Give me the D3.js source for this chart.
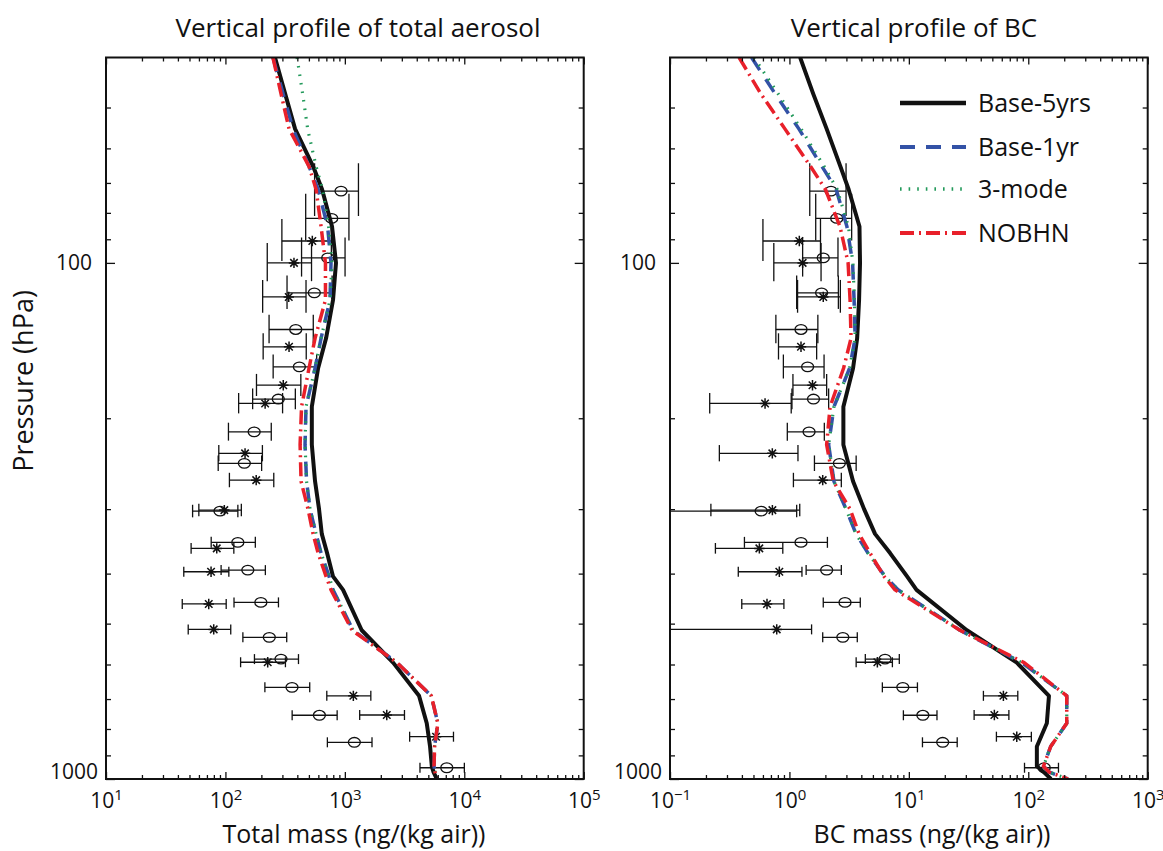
<!DOCTYPE html>
<html>
<head>
<meta charset="utf-8">
<script src="https://cdn.jsdelivr.net/npm/d3@7"></script>
<style>
body{margin:0;background:#fff;}
text{font-family:"Open Sans",sans-serif;fill:#111;}
</style>
</head>
<body>
<svg id="chartSVG" width="1163" height="851"></svg>
<script>
// model pressure levels (hPa)
const modelP = [40, 47, 55, 65, 72, 85, 100, 118, 140, 160, 190, 225, 265, 300, 335, 365, 405, 430, 515, 595, 690, 780, 865, 945, 970, 1000];

// total aerosol mass, ng/(kg air)
const totBase5 = [260, 316, 383, 542, 644, 781, 843, 796, 696, 597, 529, 529, 563, 608, 641, 710, 796, 966, 1384, 2536, 4180, 4850, 5170, 5350, 5530, 5890];
const totBase1 = [250, 304, 368, 501, 597, 717, 766, 751, 632, 563, 473, 464, 478, 511, 574, 632, 738, 796, 1172, 2729, 5297, 6010, 5640, 5580, 5690, 5900];
const tot3mode = [398, 443, 488, 574, 650, 731, 781, 751, 632, 563, 473, 464, 478, 511, 574, 632, 738, 796, 1172, 2729, 5297, 6010, 5640, 5580, 5690, 5900];
const totNOBHN = [250, 292, 341, 501, 574, 632, 688, 688, 563, 501, 434, 422, 430, 492, 542, 597, 696, 766, 1148, 2729, 5297, 6010, 5640, 5580, 5690, 5900];

// BC mass, ng/(kg air)
const bcBase5 = [1.23, 1.58, 2.05, 2.67, 3.13, 3.86, 3.90, 3.83, 3.69, 3.41, 2.83, 2.83, 3.41, 4.22, 5.21, 6.96, 9.66, 11.6, 30.6, 80.2, 149, 143, 118, 118, 135, 155];
const bcBase1 = [0.482, 0.758, 1.20, 1.87, 2.46, 3.03, 3.38, 3.48, 3.55, 3.19, 2.36, 2.13, 2.36, 2.98, 3.61, 4.55, 6.32, 8.12, 26.8, 88.3, 210, 210, 154, 134, 150, 215];
const bc3mode = [0.505, 0.803, 1.25, 1.95, 2.51, 3.12, 3.40, 3.50, 3.55, 3.19, 2.36, 2.13, 2.36, 2.98, 3.61, 4.55, 6.32, 8.12, 26.8, 88.3, 210, 210, 154, 134, 150, 215];
const bcNOBHN = [0.379, 0.576, 0.917, 1.50, 2.0, 2.65, 3.10, 3.22, 3.28, 2.84, 2.19, 2.05, 2.33, 3.22, 3.83, 4.73, 6.20, 7.66, 26.8, 92.3, 210, 210, 154, 134, 150, 215];

// observations: circles and asterisks (pressure, mean, std)
const circP = [72.6, 82, 97.8, 114.3, 134.6, 159, 183.6, 212.5, 244.6, 302.7, 348, 393.8, 454.8, 531.6, 585.7, 664.4, 752.5, 849, 951];
const starP = [90.7, 100, 116.4, 145.4, 172.6, 187.2, 233.9, 263.6, 301.3, 357.4, 396.7, 458, 513, 594, 690, 751.6, 828];

const totCircMean = [929, 776, 719, 555, 388, 416, 277, 174, 144, 90.1, 127, 154, 198, 233, 292, 361, 612, 1201, 7136];
const totCircSd   = [371, 306, 285, 227, 156, 165, 108, 68, 57, 37, 51, 62, 80, 93, 117, 147, 250, 487, 2880];
const totStarMean = [534, 375, 339, 341, 305, 215, 146, 181, 97.9, 84.6, 75.8, 72.5, 79.8, 226, 1178, 2244, 5804];
const totStarSd   = [237, 151, 134, 134, 123, 86, 58, 73, 38, 33, 31, 29, 31, 92, 472, 913, 2317];

const bcCircMean = [2.23, 2.49, 1.92, 1.86, 1.25, 1.42, 1.59, 1.46, 2.62, 0.58, 1.25, 2.05, 2.92, 2.80, 6.32, 8.9, 13.1, 19.2, 136];
const bcCircSd   = [0.75, 0.83, 0.63, 0.71, 0.48, 0.53, 0.54, 0.50, 1.0, 0.57, 0.83, 0.67, 1.0, 0.9, 2.0, 2.9, 4.1, 6.2, 43];
const bcStarMean = [1.21, 1.29, 1.92, 1.25, 1.56, 0.625, 0.719, 1.90, 0.72, 0.56, 0.823, 0.649, 0.783, 5.45, 61.9, 52, 80.1];
const bcStarSd   = [0.61, 0.55, 0.75, 0.44, 0.49, 0.41, 0.46, 0.82, 0.50, 0.32, 0.45, 0.25, 0.75, 1.83, 19.8, 16.8, 26];

const seriesNames = ["Base-5yrs", "Base-1yr", "3-mode", "NOBHN"];
const xTicksTot = [10, 100, 1000, 10000, 100000];
const xTicksBC = [0.1, 1, 10, 100, 1000];
const yTicks = [100, 1000];
const yMinor = [50, 60, 70, 80, 90, 200, 300, 400, 500, 600, 700, 800, 900];

// line styles, same order as seriesNames
const styles = [
  {color: "#111111", width: 4, dash: null},
  {color: "#3352a6", width: 3.5, dash: "15,11"},
  {color: "#22995a", width: 3.2, dash: "1.6,7"},
  {color: "#e8202a", width: 3.5, dash: "14,5,2,5"}
];

let svg = d3.select("#chartSVG");

const yTop = 57.5, yBot = 779;
let yScale = d3.scaleLog().domain([40, 1000]).range([yTop, yBot]);

const panels = [
  {x0: 106, x1: 583.7, xTicks: xTicksTot, lines: [totBase5, totBase1, tot3mode, totNOBHN],
   circ: [totCircMean, totCircSd], star: [totStarMean, totStarSd],
   title: "Vertical profile of total aerosol", titleX: 358, xlabel: "Total mass (ng/(kg air))", xlabelX: 354},
  {x0: 670, x1: 1147.7, xTicks: xTicksBC, lines: [bcBase5, bcBase1, bc3mode, bcNOBHN],
   circ: [bcCircMean, bcCircSd], star: [bcStarMean, bcStarSd],
   title: "Vertical profile of BC", titleX: 914, xlabel: "BC mass (ng/(kg air))", xlabelX: 932, legend: true}
];

function minorOf(major) {
  let out = [];
  for (let i = 0; i < major.length - 1; i++)
    for (let k = 2; k <= 9; k++) out.push(major[i] * k);
  return out;
}

function supLabel(sel) {
  sel.selectAll(".tick text").each(function(d) {
    let e = Math.round(Math.log10(d));
    let t = d3.select(this);
    t.text(null);
    t.append("tspan").text("10");
    t.append("tspan").attr("dy", "-0.55em").attr("font-size", "15px")
      .text(e < 0 ? "\u2212" + (-e) : e);
  });
}

panels.forEach((cfg, pi) => {
  let xScale = d3.scaleLog().domain([cfg.xTicks[0], cfg.xTicks[cfg.xTicks.length - 1]]).range([cfg.x0, cfg.x1]);
  let xMinor = minorOf(cfg.xTicks);

  // clip for the plot area
  let clipId = "clip" + pi;
  svg.append("clipPath").attr("id", clipId).append("rect")
    .attr("x", cfg.x0).attr("y", yTop).attr("width", cfg.x1 - cfg.x0).attr("height", yBot - yTop);
  let plot = svg.append("g").attr("clip-path", "url(#" + clipId + ")");

  // 1. observation error bars
  function drawObs(pArr, mean, sd, kind) {
    let g = plot.append("g").attr("stroke", "#111").attr("stroke-width", 1.3).attr("fill", "none");
    pArr.forEach((p, i) => {
      let lo = mean[i] - sd[i], hi = mean[i] + sd[i];
      let xl = lo > 0 ? xScale(lo) : cfg.x0 - 20;
      let xh = xScale(hi);
      let yc = yScale(p);
      let ya = Math.min(yScale(p - 8.5), yc - 5), yb = Math.max(yScale(p + 8.5), yc + 5);
      g.append("line").attr("x1", xl).attr("x2", xh).attr("y1", yc).attr("y2", yc);
      if (lo > 0) g.append("line").attr("x1", xl).attr("x2", xl).attr("y1", ya).attr("y2", yb);
      g.append("line").attr("x1", xh).attr("x2", xh).attr("y1", ya).attr("y2", yb);
      let xc = xScale(mean[i]);
      if (kind === "o") {
        g.append("ellipse").attr("cx", xc).attr("cy", yc).attr("rx", 6).attr("ry", 4.8);
      } else {
        let r = 5.2, q = r * 0.72;
        g.append("path").attr("stroke-width", 1.5)
          .attr("d", `M${xc - r},${yc}H${xc + r}M${xc},${yc - r}V${yc + r}M${xc - q},${yc - q}L${xc + q},${yc + q}M${xc - q},${yc + q}L${xc + q},${yc - q}`);
      }
    });
  }
  drawObs(circP, cfg.circ[0], cfg.circ[1], "o");
  drawObs(starP, cfg.star[0], cfg.star[1], "*");

  // 2. model lines
  let line = d3.line().x(d => xScale(d[0])).y(d => yScale(d[1]));
  cfg.lines.forEach((vals, si) => {
    let st = styles[si];
    plot.append("path")
      .datum(vals.map((v, i) => [v, modelP[i]]))
      .attr("d", line)
      .attr("fill", "none")
      .attr("stroke", st.color)
      .attr("stroke-width", st.width)
      .attr("stroke-dasharray", st.dash)
      .attr("stroke-linejoin", "round");
  });

  // 3. axes, ticks point inward
  let font = g => g.attr("font-family", "Open Sans, sans-serif").attr("font-size", 21).call(g => g.select(".domain").remove());

  svg.append("g").attr("transform", `translate(0,${yBot})`)
    .call(d3.axisBottom(xScale).tickValues(xMinor).tickSize(-4).tickFormat("")).call(font);
  let xb = svg.append("g").attr("transform", `translate(0,${yBot})`)
    .call(d3.axisBottom(xScale).tickValues(cfg.xTicks).tickSize(-7).tickPadding(14)).call(font);
  supLabel(xb);
  svg.append("g").attr("transform", `translate(0,${yTop})`)
    .call(d3.axisTop(xScale).tickValues(xMinor).tickSize(-4).tickFormat("")).call(font);
  svg.append("g").attr("transform", `translate(0,${yTop})`)
    .call(d3.axisTop(xScale).tickValues(cfg.xTicks).tickSize(-7).tickFormat("")).call(font);

  svg.append("g").attr("transform", `translate(${cfg.x0},0)`)
    .call(d3.axisLeft(yScale).tickValues(yMinor).tickSize(-5).tickFormat("")).call(font);
  let yl = svg.append("g").attr("transform", `translate(${cfg.x0},0)`)
    .call(d3.axisLeft(yScale).tickValues(yTicks).tickSize(-9).tickPadding(14).tickFormat(d3.format("d"))).call(font);
  yl.selectAll(".tick text").filter(d => d === 1000).attr("transform", "translate(6,-7)");
  svg.append("g").attr("transform", `translate(${cfg.x1},0)`)
    .call(d3.axisRight(yScale).tickValues(yMinor).tickSize(-5).tickFormat("")).call(font);
  svg.append("g").attr("transform", `translate(${cfg.x1},0)`)
    .call(d3.axisRight(yScale).tickValues(yTicks).tickSize(-9).tickFormat("")).call(font);
  svg.selectAll(".tick line").attr("stroke", "#111").attr("stroke-width", 1.3);

  // frame
  svg.append("rect").attr("x", cfg.x0).attr("y", yTop).attr("width", cfg.x1 - cfg.x0).attr("height", yBot - yTop)
    .attr("fill", "none").attr("stroke", "#111").attr("stroke-width", 2);

  // 4. titles and labels
  svg.append("text").text(cfg.title).attr("x", cfg.titleX).attr("y", 37)
    .attr("text-anchor", "middle").style("font-size", "26px");
  svg.append("text").text(cfg.xlabel).attr("x", cfg.xlabelX).attr("y", 843)
    .attr("text-anchor", "middle").style("font-size", "25px");

  // 5. legend
  if (cfg.legend) {
    let rows = [103, 147, 189, 233];
    seriesNames.forEach((name, si) => {
      let st = styles[si];
      svg.append("line").attr("x1", 900).attr("x2", 966).attr("y1", rows[si]).attr("y2", rows[si])
        .attr("stroke", st.color).attr("stroke-width", st.width + 0.5).attr("stroke-dasharray", st.dash);
      svg.append("text").text(name).attr("x", 978).attr("y", rows[si] + 9).style("font-size", "25px");
    });
  }
});

svg.append("text").text("Pressure (hPa)")
  .attr("transform", "translate(33,381) rotate(-90)")
  .attr("text-anchor", "middle").style("font-size", "27px");
</script>
</body>
</html>
